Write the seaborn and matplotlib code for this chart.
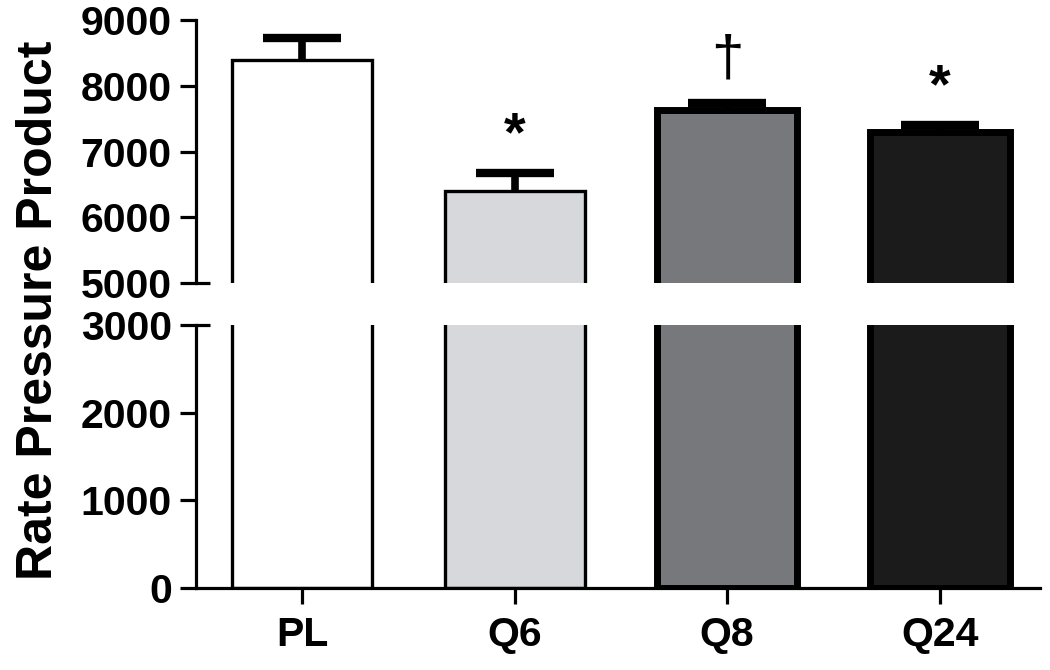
import matplotlib
matplotlib.use("Agg")
import matplotlib.pyplot as plt
import seaborn as sns
import pandas as pd
import numpy as np

# data
groups = ["PL", "Q6", "Q8", "Q24"]
rpp_mean = [8390, 6400, 7625, 7290]
rpp_sem = [335, 270, 115, 115]
marks = ["", "*", "\u2020", "*"]
bar_colors = ["#ffffff", "#d6d8db", "#77787c", "#1b1b1b"]

df = pd.DataFrame({"group": groups, "rpp": rpp_mean})

sns.set_style("ticks")
plt.rcParams["font.family"] = ["Liberation Sans", "DejaVu Sans"]
plt.rcParams["font.weight"] = "bold"
for k in ["text.color", "axes.edgecolor", "axes.labelcolor",
          "xtick.color", "ytick.color"]:
    plt.rcParams[k] = "black"

fig = plt.figure(figsize=(10.5, 6.7), dpi=100)
ax_top = fig.add_axes([0.1867, 0.5776, 0.8033, 0.3924])
ax_bot = fig.add_axes([0.1867, 0.1224, 0.8033, 0.3925])

for ax in (ax_top, ax_bot):
    sns.barplot(data=df, x="group", y="rpp", hue="group", palette=bar_colors,
                edgecolor="black", width=0.66, errorbar=None, legend=False,
                saturation=1, ax=ax)
    for p, lw in zip(ax.patches, [2.4, 2.4, 5.0, 5.0]):
        p.set_linewidth(lw)
    ax.set_xlim(-0.5, 3.47)
    ax.set_xlabel("")
    ax.set_ylabel("")
    for s in ax.spines.values():
        s.set_linewidth(2.3)
    ax.tick_params(axis="both", length=11.5, width=2.3, labelsize=29.5,
                   pad=6, colors="black")

# one-sided error bars (upper SEM only)
xpos = np.arange(len(groups))
eb = ax_top.errorbar(xpos, rpp_mean, yerr=[np.zeros(len(groups)), rpp_sem],
                     fmt="none", ecolor="black", elinewidth=5.5, capsize=28,
                     capthick=6, zorder=1)
eb[1][0].set_visible(False)  # drop the lower caps
eb[1][1].set_solid_capstyle("round")

ax_top.set_ylim(5000, 9000)
ax_top.set_yticks([5000, 6000, 7000, 8000, 9000])
ax_top.set_yticklabels([str(v) for v in [5000, 6000, 7000, 8000, 9000]],
                       fontweight="bold", fontsize=29.5)
ax_top.set_xticks([])
sns.despine(ax=ax_top, bottom=True)

ax_bot.set_ylim(0, 3000)
ax_bot.set_yticks([0, 1000, 2000, 3000])
ax_bot.set_yticklabels([str(v) for v in [0, 1000, 2000, 3000]],
                       fontweight="bold", fontsize=29.5)
ax_bot.set_xticks(xpos)
ax_bot.set_xticklabels(groups, fontweight="bold", fontsize=29.5)
ax_bot.tick_params(axis="x", pad=9)
sns.despine(ax=ax_bot)

# break markers at the axis ends
ax_top.plot([0, 0.016], [0, 0], transform=ax_top.transAxes, color="black",
            lw=2.3, clip_on=False, solid_capstyle="butt")
ax_bot.plot([0, 0.016], [1, 1], transform=ax_bot.transAxes, color="black",
            lw=2.3, clip_on=False, solid_capstyle="butt")

# significance marks
for i, (m, mval, sval) in enumerate(zip(marks, rpp_mean, rpp_sem)):
    if not m:
        continue
    if m == "*":
        ax_top.text(i, mval + sval + 560, m, ha="center", va="center",
                    fontsize=40, fontweight="bold")
    else:
        ax_top.text(i, mval + sval + 640, m, ha="center", va="center",
                    fontsize=42, fontweight="normal")

fig.text(0.037, 0.537, "Rate Pressure Product", rotation=90, ha="center",
         va="center", fontsize=36, fontweight="bold")

fig.savefig("out.png", dpi=100, facecolor="white")
